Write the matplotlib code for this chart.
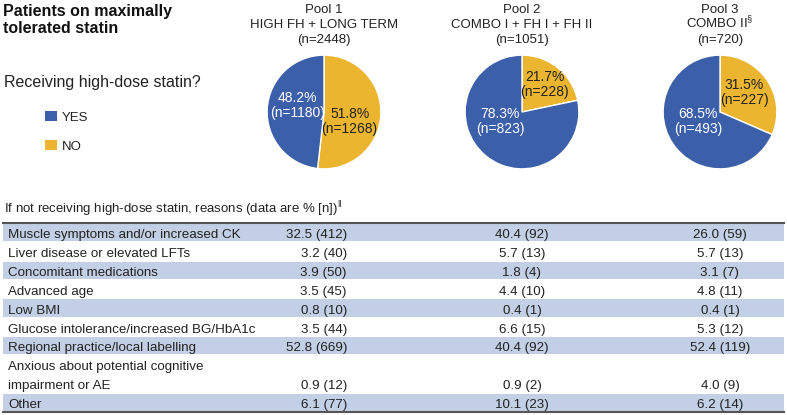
import matplotlib
matplotlib.use("Agg")
import matplotlib.pyplot as plt
from matplotlib.patches import Rectangle

plt.rcParams['font.family'] = ['Liberation Sans', 'DejaVu Sans']
plt.rcParams['mathtext.fontset'] = 'custom'
plt.rcParams['mathtext.rm'] = 'Liberation Sans'
plt.rcParams['mathtext.it'] = 'Liberation Sans:italic'
plt.rcParams['mathtext.bf'] = 'Liberation Sans:bold'

# ---------------- data ----------------
pool_titles = ["Pool 1", "Pool 2", "Pool 3"]
pool_names = ["HIGH FH + LONG TERM", "COMBO I + FH I + FH II", r"COMBO II$^{\S}$"]
pool_n = [2448, 1051, 720]
yes_pct = [48.2, 78.3, 68.5]
yes_n = [1180, 823, 493]
no_pct = [51.8, 21.7, 31.5]
no_n = [1268, 228, 227]

reasons = [
    "Muscle symptoms and/or increased CK",
    "Liver disease or elevated LFTs",
    "Concomitant medications",
    "Advanced age",
    "Low BMI",
    "Glucose intolerance/increased BG/HbA1c",
    "Regional practice/local labelling",
    "Anxious about potential cognitive\nimpairment or AE",
    "Other",
]
pool1_pct = [32.5, 3.2, 3.9, 3.5, 0.8, 3.5, 52.8, 0.9, 6.1]
pool1_cnt = [412, 40, 50, 45, 10, 44, 669, 12, 77]
pool2_pct = [40.4, 5.7, 1.8, 4.4, 0.4, 6.6, 40.4, 0.9, 10.1]
pool2_cnt = [92, 13, 4, 10, 1, 15, 92, 2, 23]
pool3_pct = [26.0, 5.7, 3.1, 4.8, 0.4, 5.3, 52.4, 4.0, 6.2]
pool3_cnt = [59, 13, 7, 11, 1, 12, 119, 9, 14]

# ---------------- style ----------------
BLUE = "#3C5FA9"
YELLOW = "#EBB52F"
SHADE = "#C2CFE4"
TXT = "#222222"
W, H = 787, 415

fig = plt.figure(figsize=(W / 100, H / 100), dpi=100)
ax = fig.add_axes([0, 0, 1, 1])
ax.set_xlim(0, W)
ax.set_ylim(H, 0)
ax.axis("off")

# title & legend
ax.text(3, 16, "Patients on maximally", fontsize=11.5, fontweight="bold",
        va="baseline", ha="left", color="#111111")
ax.text(3, 33, "tolerated statin", fontsize=11.5, fontweight="bold",
        va="baseline", ha="left", color="#111111")
ax.text(4, 87, "Receiving high-dose statin?", fontsize=11.5, va="baseline", ha="left", color=TXT)
for lab, col, yb in [("YES", BLUE, 121), ("NO", YELLOW, 149.5)]:
    ax.add_patch(Rectangle((45, yb - 10), 12, 10, facecolor=col, edgecolor="none"))
    ax.text(62, yb, lab, fontsize=9.5, va="baseline", ha="left", color=TXT)

# pies
centers = [324, 522, 720]
cy, R = 112, 58
yes_off = [(-0.47, 0.12), (-0.38, -0.17), (-0.38, -0.17)]
no_off = [(0.45, -0.17), (0.40, 0.48), (0.43, 0.34)]
for i, cx in enumerate(centers):
    ax.text(cx, 13, pool_titles[i], fontsize=9.5, ha="center", va="baseline", color=TXT)
    ax.text(cx, 28.5, pool_names[i], fontsize=9.5, ha="center", va="baseline", color=TXT)
    ax.text(cx, 43.5, f"(n={pool_n[i]})", fontsize=9.5, ha="center", va="baseline", color=TXT)
    pax = fig.add_axes([(cx - R) / W, 1 - (cy + R) / H, 2 * R / W, 2 * R / H])
    pax.pie([no_pct[i], yes_pct[i]], colors=[YELLOW, BLUE], startangle=90, counterclock=False,
            radius=1, wedgeprops=dict(edgecolor="white", linewidth=1.0))
    pax.set_xlim(-1.02, 1.02)
    pax.set_ylim(-1.02, 1.02)
    pax.set_aspect("auto")
    pax.axis("off")
    pax.text(*yes_off[i], f"{yes_pct[i]}%\n(n={yes_n[i]})", fontsize=10, ha="center", va="center",
             color="white", linespacing=1.12)
    pax.text(*no_off[i], f"{no_pct[i]}%\n(n={no_n[i]})", fontsize=10, ha="center", va="center",
             color=TXT, linespacing=1.12)

# table
ax.text(4, 213, r"If not receiving high-dose statin, reasons (data are % [n])$^{\Vert}$",
        fontsize=9.5, ha="left", va="baseline", color=TXT)
top = 223.0
unit = 18.9
left, right = 3, 784
FS = 9.6
y = top
for r, reason in enumerate(reasons):
    nlines = reason.count("\n") + 1
    h = unit * nlines
    if r % 2 == 0:
        ax.add_patch(Rectangle((left, y + 0.8), right - left, h - 1.6, facecolor=SHADE, edgecolor="none"))
    lines = reason.split("\n")
    for k, ln in enumerate(lines):
        ax.text(8, y + unit * (k + 1) - 3.8, ln, fontsize=FS, ha="left", va="baseline", color=TXT)
    vy = y + unit * nlines - 3.8
    ax.text(347, vy, f"{pool1_pct[r]:.1f} ({pool1_cnt[r]})", fontsize=FS, ha="right", va="baseline", color=TXT)
    ax.text(522, vy, f"{pool2_pct[r]:.1f} ({pool2_cnt[r]})", fontsize=FS, ha="center", va="baseline", color=TXT)
    ax.text(720, vy, f"{pool3_pct[r]:.1f} ({pool3_cnt[r]})", fontsize=FS, ha="center", va="baseline", color=TXT)
    y += h
ax.plot([left, right], [top, top], color="#555555", lw=1.5)
ax.plot([left, right], [y, y], color="#555555", lw=1.5)

fig.savefig("out.png", dpi=100)
